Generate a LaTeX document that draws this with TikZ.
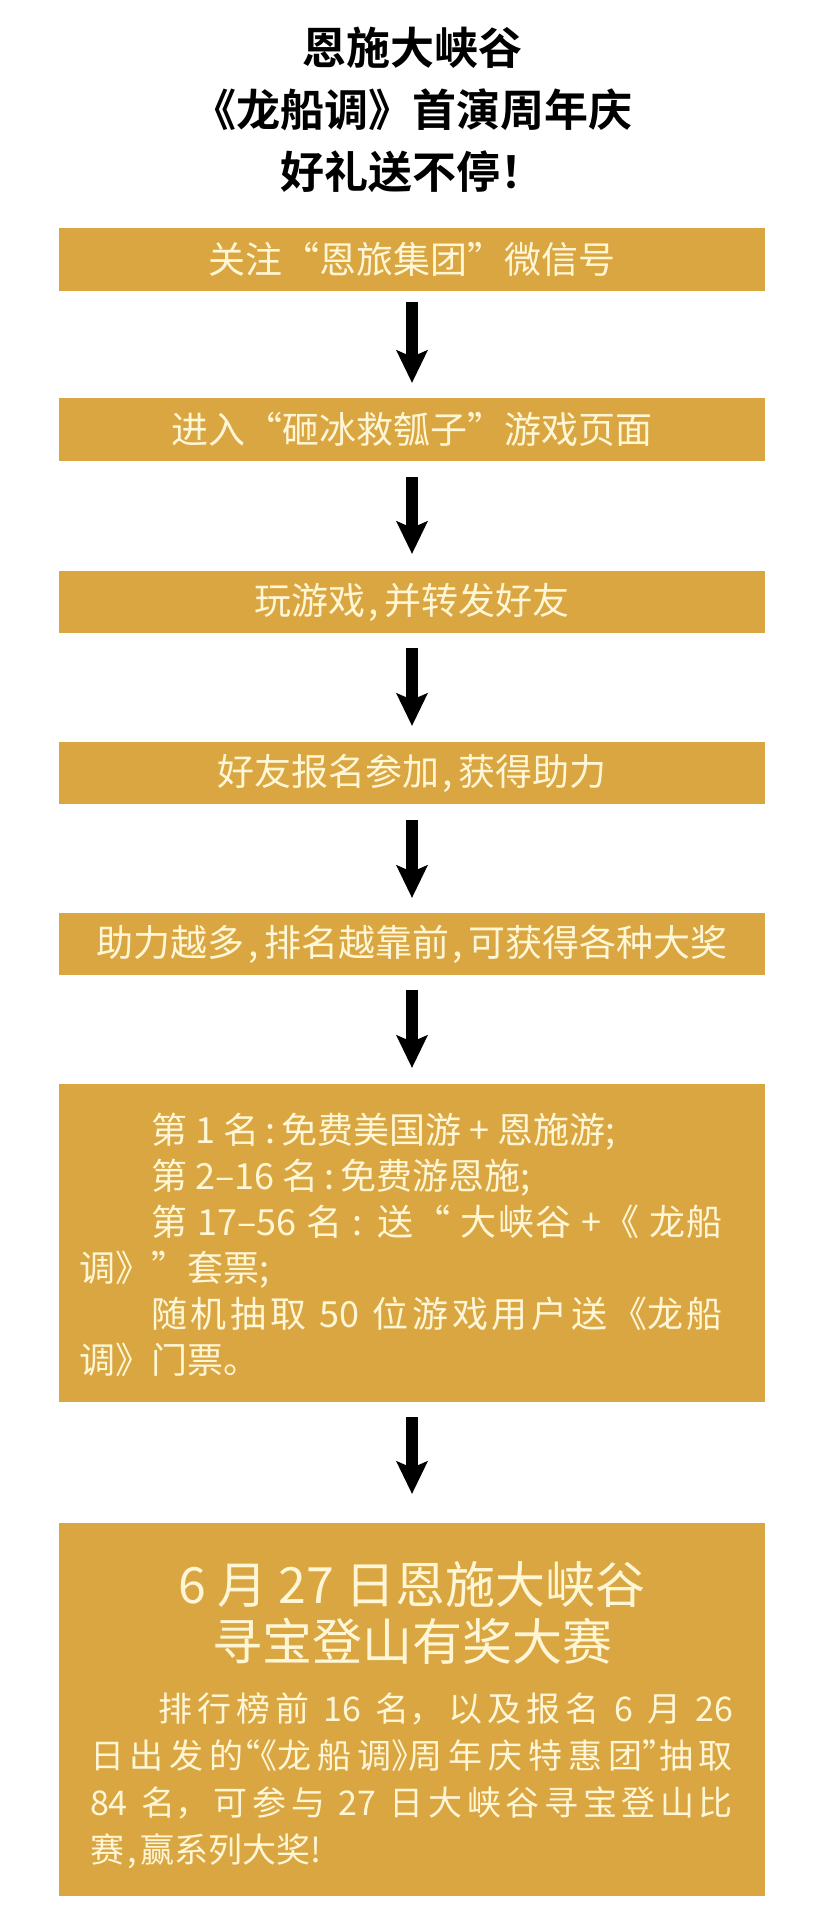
\documentclass[tikz,border=0pt]{standalone}
\usepackage{fontspec}
\newfontfamily\cjk{Noto Sans CJK SC}
\newfontfamily\cjkbf{Noto Sans CJK SC Bold}
\newfontfamily\cjkhalf[RawFeature=+halt]{Noto Sans CJK SC}
\XeTeXlinebreaklocale "zh"
\XeTeXlinebreakskip=0pt plus 3pt
\usetikzlibrary{arrows.meta,positioning}

\definecolor{gold}{RGB}{217,166,66}
\definecolor{cream}{RGB}{255,246,214}

\newcommand{\hp}[1]{{\cjkhalf #1}}
\newcommand{\sep}{\hspace{.1em},\hspace{.15em}}

\tikzset{
    stepbox/.style={fill=gold, text=cream, minimum width=706pt, inner sep=0pt,
        font=\cjk\fontsize{37}{46}\selectfont},
    titletext/.style={align=center, inner sep=0pt, font=\cjkbf\fontsize{44}{62}\selectfont},
    headtext/.style={align=center, inner sep=0pt, text=cream, font=\cjk\fontsize{50}{57}\selectfont},
    bodytext/.style={align=justify, inner sep=0pt, text=cream, font=\cjk\fontsize{34}{47}\selectfont},
    flowarrow/.style={line width=12pt,
        -{Stealth[length=33pt, width=32pt, inset=7pt, line width=0pt]}},
}

\begin{document}
\begin{tikzpicture}[x=1pt, y=-1pt]
    \useasboundingbox (0,0) rectangle (840,1929);

    % --- Title ---
    \node[titletext] (title) at (412,110) {恩施大峡谷\\《龙船调》首演周年庆\\好礼送不停！};

    % --- Steps ---
    \node[stepbox, minimum height=63pt] (b1) at (412,259.5) {关注“恩旅集团”微信号};
    \node[stepbox, minimum height=63pt] (b2) at (412,429.5) {进入“砸冰救瓠子”游戏页面};
    \node[stepbox, minimum height=62pt] (b3) at (412,602) {玩游戏\sep 并转发好友};
    \node[stepbox, minimum height=62pt] (b4) at (412,773) {好友报名参加\sep 获得助力};
    \node[stepbox, minimum height=62pt] (b5) at (412,944)
        {助力越多\sep 排名越靠前\sep 可获得各种大奖};

    % --- Prize list ---
    \node[stepbox, minimum height=318pt] (b6) at (412,1243) {};
    \node[bodytext, text width=644pt, font=\cjk\fontsize{36}{46}\selectfont] (l6) at (401,1245) {%
        \hspace*{2em}第 1 名\,:\,免费美国游 + 恩施游;\\
        \hspace*{2em}第 2–16 名\,:\,免费游恩施;\\
        \hspace*{2em}第 17–56 名 : 送“ 大峡谷 +《 龙船\linebreak
        调》”套票;\\
        \hspace*{2em}随机抽取 50 位游戏用户送《龙船\linebreak
        调》门票。};

    % --- Final event ---
    \node[stepbox, minimum height=373pt] (b7) at (412,1709.5) {};
    \node[headtext] (h7) at (412,1613) {6 月 27 日恩施大峡谷\\寻宝登山有奖大赛};
    \node[bodytext, text width=643pt] (p7) at (411.5,1781) {%
        \hspace*{2em}排行榜前 16 名，以及报名 6 月 26\linebreak
        日出发的\hp{“《}龙船调\hp{》}周年庆特惠团\hp{”}抽取\linebreak
        84 名，可参与 27 日大峡谷寻宝登山比\linebreak
        赛\hspace{.1em},\hspace{.1em}赢系列大奖!};

    % --- Arrows ---
    \foreach \a/\b/\s/\e in {b1/b2/11/15, b2/b3/16/17, b3/b4/15/16,
                             b4/b5/16/15, b5/b6/15/16, b6/b7/15/29} {
        \draw[flowarrow] ([yshift=-\s pt]\a.south) -- ([yshift=\e pt]\b.north);
    }
\end{tikzpicture}
\end{document}
